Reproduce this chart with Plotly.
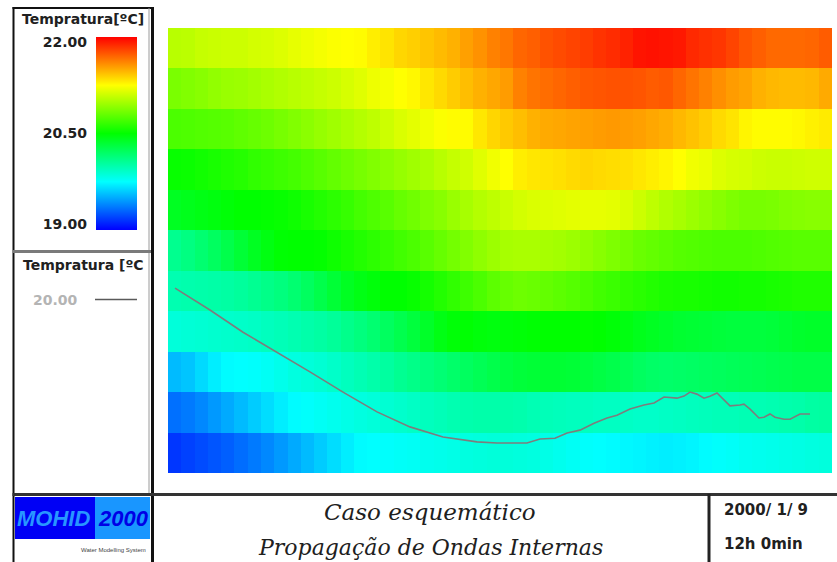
import plotly.graph_objects as go

# ---------------------------------------------------------------
# Temperature field (ºC): 11 depth layers (top -> bottom) x 50 columns
# ---------------------------------------------------------------
temp_layer_00 = [21.04, 21.05, 21.08, 21.09, 21.10, 21.10, 21.12, 21.13, 21.15, 21.18,
                 21.20, 21.22, 21.24, 21.25, 21.26, 21.30, 21.33, 21.37, 21.39, 21.42,
                 21.45, 21.48, 21.53, 21.57, 21.62, 21.65, 21.70, 21.72, 21.76, 21.78,
                 21.80, 21.82, 21.85, 21.87, 21.90, 21.94, 21.95, 21.94, 21.93, 21.88,
                 21.86, 21.84, 21.80, 21.75, 21.72, 21.69, 21.69, 21.69, 21.70, 21.73]
temp_layer_01 = [20.86, 20.88, 20.90, 20.93, 20.95, 20.96, 20.98, 21.00, 21.02, 21.04,
                 21.06, 21.08, 21.10, 21.13, 21.16, 21.20, 21.22, 21.25, 21.27, 21.32,
                 21.36, 21.40, 21.44, 21.48, 21.51, 21.54, 21.62, 21.66, 21.68, 21.70,
                 21.72, 21.74, 21.75, 21.76, 21.76, 21.75, 21.73, 21.74, 21.70, 21.66,
                 21.62, 21.58, 21.54, 21.52, 21.48, 21.46, 21.45, 21.45, 21.46, 21.50]
temp_layer_02 = [20.72, 20.73, 20.74, 20.75, 20.76, 20.78, 20.80, 20.82, 20.85, 20.88,
                 20.91, 20.94, 20.97, 21.00, 21.03, 21.06, 21.10, 21.14, 21.17, 21.21,
                 21.24, 21.26, 21.26, 21.32, 21.37, 21.41, 21.44, 21.48, 21.50, 21.51,
                 21.52, 21.53, 21.54, 21.55, 21.54, 21.53, 21.51, 21.49, 21.46, 21.43,
                 21.40, 21.36, 21.33, 21.28, 21.26, 21.26, 21.26, 21.27, 21.29, 21.31]
temp_layer_03 = [20.52, 20.53, 20.55, 20.57, 20.59, 20.61, 20.64, 20.66, 20.68, 20.70,
                 20.73, 20.76, 20.79, 20.82, 20.85, 20.88, 20.91, 20.94, 20.97, 21.00,
                 21.04, 21.08, 21.11, 21.16, 21.21, 21.25, 21.30, 21.32, 21.33, 21.34,
                 21.36, 21.37, 21.36, 21.35, 21.34, 21.32, 21.30, 21.28, 21.25, 21.21,
                 21.19, 21.15, 21.13, 21.12, 21.10, 21.09, 21.09, 21.10, 21.11, 21.11]
temp_layer_04 = [20.40, 20.42, 20.44, 20.46, 20.48, 20.50, 20.50, 20.51, 20.52, 20.54,
                 20.57, 20.60, 20.63, 20.66, 20.70, 20.73, 20.76, 20.80, 20.83, 20.87,
                 20.90, 20.95, 20.99, 21.03, 21.06, 21.09, 21.12, 21.14, 21.15, 21.16,
                 21.17, 21.18, 21.18, 21.17, 21.14, 21.10, 21.06, 21.02, 20.99, 20.96,
                 20.93, 20.90, 20.87, 20.85, 20.85, 20.86, 20.88, 20.89, 20.90, 20.90]
temp_layer_05 = [20.08, 20.12, 20.17, 20.22, 20.28, 20.34, 20.40, 20.45, 20.49, 20.50,
                 20.50, 20.51, 20.54, 20.57, 20.60, 20.63, 20.66, 20.69, 20.72, 20.76,
                 20.80, 20.84, 20.88, 20.92, 20.96, 20.99, 21.00, 21.00, 20.99, 20.98,
                 20.96, 20.93, 20.90, 20.87, 20.84, 20.81, 20.79, 20.77, 20.75, 20.74,
                 20.73, 20.72, 20.72, 20.72, 20.73, 20.74, 20.75, 20.76, 20.76, 20.76]
temp_layer_06 = [19.98, 19.99, 20.00, 20.01, 20.02, 20.04, 20.07, 20.10, 20.13, 20.17,
                 20.22, 20.28, 20.34, 20.40, 20.44, 20.47, 20.50, 20.50, 20.52, 20.56,
                 20.60, 20.64, 20.68, 20.72, 20.77, 20.80, 20.82, 20.81, 20.79, 20.77,
                 20.75, 20.72, 20.69, 20.67, 20.64, 20.62, 20.60, 20.58, 20.57, 20.57,
                 20.56, 20.55, 20.55, 20.56, 20.56, 20.57, 20.58, 20.59, 20.59, 20.59]
temp_layer_07 = [19.86, 19.87, 19.88, 19.89, 19.90, 19.91, 19.92, 19.94, 19.96, 19.98,
                 20.00, 20.02, 20.05, 20.09, 20.13, 20.17, 20.22, 20.27, 20.32, 20.38,
                 20.44, 20.48, 20.49, 20.47, 20.46, 20.47, 20.48, 20.49, 20.50, 20.50,
                 20.50, 20.51, 20.50, 20.48, 20.45, 20.42, 20.40, 20.38, 20.36, 20.35,
                 20.34, 20.33, 20.32, 20.32, 20.32, 20.33, 20.35, 20.37, 20.38, 20.38]
temp_layer_08 = [19.55, 19.58, 19.64, 19.70, 19.74, 19.75, 19.76, 19.78, 19.81, 19.84,
                 19.86, 19.88, 19.91, 19.94, 19.97, 20.00, 20.03, 20.07, 20.10, 20.13,
                 20.16, 20.19, 20.22, 20.25, 20.28, 20.31, 20.33, 20.34, 20.35, 20.35,
                 20.34, 20.32, 20.30, 20.28, 20.25, 20.22, 20.20, 20.19, 20.20, 20.21,
                 20.22, 20.23, 20.24, 20.25, 20.26, 20.27, 20.28, 20.29, 20.29, 20.29]
temp_layer_09 = [19.33, 19.36, 19.40, 19.45, 19.50, 19.55, 19.60, 19.65, 19.70, 19.74,
                 19.76, 19.78, 19.80, 19.82, 19.84, 19.86, 19.88, 19.90, 19.92, 19.94,
                 19.96, 19.98, 19.99, 20.00, 20.00, 20.00, 19.99, 19.97, 19.96, 19.95,
                 19.94, 19.94, 19.93, 19.93, 19.92, 19.91, 19.91, 19.92, 19.93, 19.94,
                 19.95, 19.96, 19.96, 19.97, 19.97, 19.98, 19.99, 20.00, 20.02, 20.03]
temp_layer_10 = [19.16, 19.19, 19.22, 19.25, 19.28, 19.32, 19.36, 19.40, 19.45, 19.50,
                 19.55, 19.60, 19.65, 19.70, 19.74, 19.75, 19.76, 19.77, 19.78, 19.80,
                 19.81, 19.82, 19.84, 19.85, 19.86, 19.86, 19.85, 19.84, 19.82, 19.80,
                 19.78, 19.76, 19.75, 19.74, 19.73, 19.72, 19.71, 19.70, 19.71, 19.72,
                 19.74, 19.76, 19.77, 19.79, 19.80, 19.81, 19.82, 19.83, 19.84, 19.85]

# Isotherm of 20.00 ºC (column units along x, layer units downward along y)
iso_level = 20.00
iso_x = [0.53, 3.16, 5.65, 8.21, 10.69, 13.18, 15.74, 18.22, 20.71, 23.27,
         24.77, 27.03, 28.01, 29.14, 30.05, 31.02, 32.08, 33.06, 33.81, 34.79,
         35.84, 36.60, 37.35, 38.33, 38.86, 39.31, 39.83, 40.36, 40.81, 41.34,
         42.32, 43.07, 43.37, 43.83, 44.50, 44.88, 45.33, 45.71, 46.39, 46.84,
         47.59, 48.34]
iso_y = [6.43, 6.97, 7.52, 8.01, 8.50, 9.00, 9.49, 9.86, 10.11, 10.23,
         10.26, 10.26, 10.16, 10.14, 10.01, 9.94, 9.77, 9.64, 9.57, 9.42,
         9.32, 9.27, 9.12, 9.15, 9.10, 9.00, 9.05, 9.15, 9.10, 9.02,
         9.34, 9.32, 9.30, 9.42, 9.64, 9.62, 9.54, 9.62, 9.67, 9.67,
         9.54, 9.54]

# Colour scale limits and labelled ticks
t_min, t_max = 19.0, 22.0
cbar_ticks = [19.0, 20.5, 22.0]

# Header / footer texts
scale_title = "Tempratura[ºC]"
iso_title = "Tempratura [ºC"
title_lines = ["Caso esquemático", "Propagação de Ondas Internas"]
date_text = "2000/ 1/ 9"
time_text = "12h 0min"

temperature = [temp_layer_00, temp_layer_01, temp_layer_02, temp_layer_03,
               temp_layer_04, temp_layer_05, temp_layer_06, temp_layer_07,
               temp_layer_08, temp_layer_09, temp_layer_10]
n_rows = len(temperature)
n_cols = len(temperature[0])

W, H = 837, 562


def fx(p):
    return p / W


def fy(p):
    return 1 - p / H


rainbow = [[0.0, "rgb(0,0,255)"], [0.25, "rgb(0,255,255)"], [0.5, "rgb(0,255,0)"],
           [0.75, "rgb(255,255,0)"], [1.0, "rgb(255,0,0)"]]

fig = go.Figure()

fig.add_trace(go.Heatmap(
    z=temperature,
    x=[c + 0.5 for c in range(n_cols)],
    y=[r + 0.5 for r in range(n_rows)],
    zmin=t_min, zmax=t_max,
    colorscale=rainbow,
    zsmooth=False,
    hoverinfo="skip",
    showscale=True,
    colorbar=dict(
        x=fx(96), xanchor="left", xpad=0,
        y=fy(133.5), yanchor="middle", ypad=0,
        len=193, lenmode="pixels",
        thickness=41, thicknessmode="pixels",
        outlinewidth=0, showticklabels=False, ticks="",
    ),
))

fig.add_trace(go.Scatter(
    x=iso_x, y=iso_y, mode="lines",
    line=dict(color="rgb(125,125,125)", width=1.6),
    hoverinfo="skip", showlegend=False,
))

# Invisible anchor points so the scale-label axis is laid out
fig.add_trace(go.Scatter(
    x=[0.5] * len(cbar_ticks), y=cbar_ticks, xaxis="x2", yaxis="y2",
    mode="markers", marker=dict(opacity=0), hoverinfo="skip", showlegend=False,
))

tick_font = dict(family="DejaVu Sans", size=14, color="#202020", weight="bold")

fig.update_layout(
    width=W, height=H,
    margin=dict(l=0, r=0, t=0, b=0, autoexpand=False),
    paper_bgcolor="white", plot_bgcolor="white",
    showlegend=False,
    xaxis=dict(domain=[fx(168), fx(832)], range=[0, n_cols], visible=False,
               fixedrange=True, automargin=False),
    yaxis=dict(domain=[fy(473), fy(28)], range=[n_rows, 0], visible=False,
               fixedrange=True, automargin=False),
    xaxis2=dict(domain=[fx(96), fx(137)], range=[0, 1], anchor="y2",
                visible=False, automargin=False),
    yaxis2=dict(domain=[fy(224), fy(42)], range=[t_min, t_max], anchor="x2",
                tickvals=cbar_ticks, ticktext=[f"{v:.2f}" for v in cbar_ticks],
                showgrid=False, zeroline=False, showline=False, ticks="",
                ticklabelstandoff=8, tickfont=tick_font, automargin=False),
)

shapes = []


def hline(x0, x1, y, color, width):
    shapes.append(dict(type="line", xref="paper", yref="paper",
                       x0=fx(x0), x1=fx(x1), y0=fy(y), y1=fy(y),
                       line=dict(color=color, width=width)))


def vline(x, y0, y1, color, width):
    shapes.append(dict(type="line", xref="paper", yref="paper",
                       x0=fx(x), x1=fx(x), y0=fy(y0), y1=fy(y1),
                       line=dict(color=color, width=width)))


def rect(x0, y0, x1, y1, fill):
    shapes.append(dict(type="rect", xref="paper", yref="paper",
                       x0=fx(x0), x1=fx(x1), y0=fy(y1), y1=fy(y0),
                       fillcolor=fill, line=dict(width=0), layer="below"))


# Panel frames
vline(13.5, 7, 562, "#111111", 2)
hline(12.5, 153, 8, "#111111", 2)
vline(149, 8, 494, "#9a9a9a", 1)
vline(152.5, 7, 562, "#111111", 3)
hline(13, 151, 251.5, "#7a7a7a", 3)
hline(12.5, 837, 494.5, "#333333", 3)
vline(709, 494, 562, "#222222", 3)

# Isotherm legend swatch
hline(95, 137, 299.5, "#5a5a5a", 1.6)

# Logo blocks
rect(15, 497, 95, 539, "rgb(0,0,245)")
rect(95, 497, 150, 539, "rgb(25,150,255)")

fig.update_layout(shapes=shapes)

annotations = []


def text(x, y, s, size, color="#202020", family="DejaVu Sans", weight="normal",
         style="normal", xanchor="center"):
    annotations.append(dict(
        x=fx(x), y=fy(y), xref="paper", yref="paper", text=s, showarrow=False,
        xanchor=xanchor, yanchor="middle",
        font=dict(family=family, size=size, color=color, weight=weight, style=style),
    ))


text(83, 19, scale_title, 14, weight="bold")
text(83, 265, iso_title, 14, weight="bold")
text(55, 300, f"{iso_level:.2f}", 14, color="#b4b4b4", weight="bold")

text(53, 518, "MOHID", 22, color="rgb(40,150,255)", family="Liberation Sans",
     weight="bold", style="italic")
text(123, 518, "2000", 22, color="rgb(0,0,230)", family="Liberation Sans",
     weight="bold", style="italic")
text(148, 550, "Water Modelling System", 6, color="#444444",
     family="Liberation Sans", xanchor="right")

text(430, 512, title_lines[0], 23, family="DejaVu Serif", style="italic")
text(430, 547, title_lines[1], 22, family="DejaVu Serif", style="italic")

text(722, 510, date_text, 15, weight="bold", xanchor="left")
text(722, 544, time_text, 15, weight="bold", xanchor="left")

fig.update_layout(annotations=annotations)

fig.write_html("out.html")
